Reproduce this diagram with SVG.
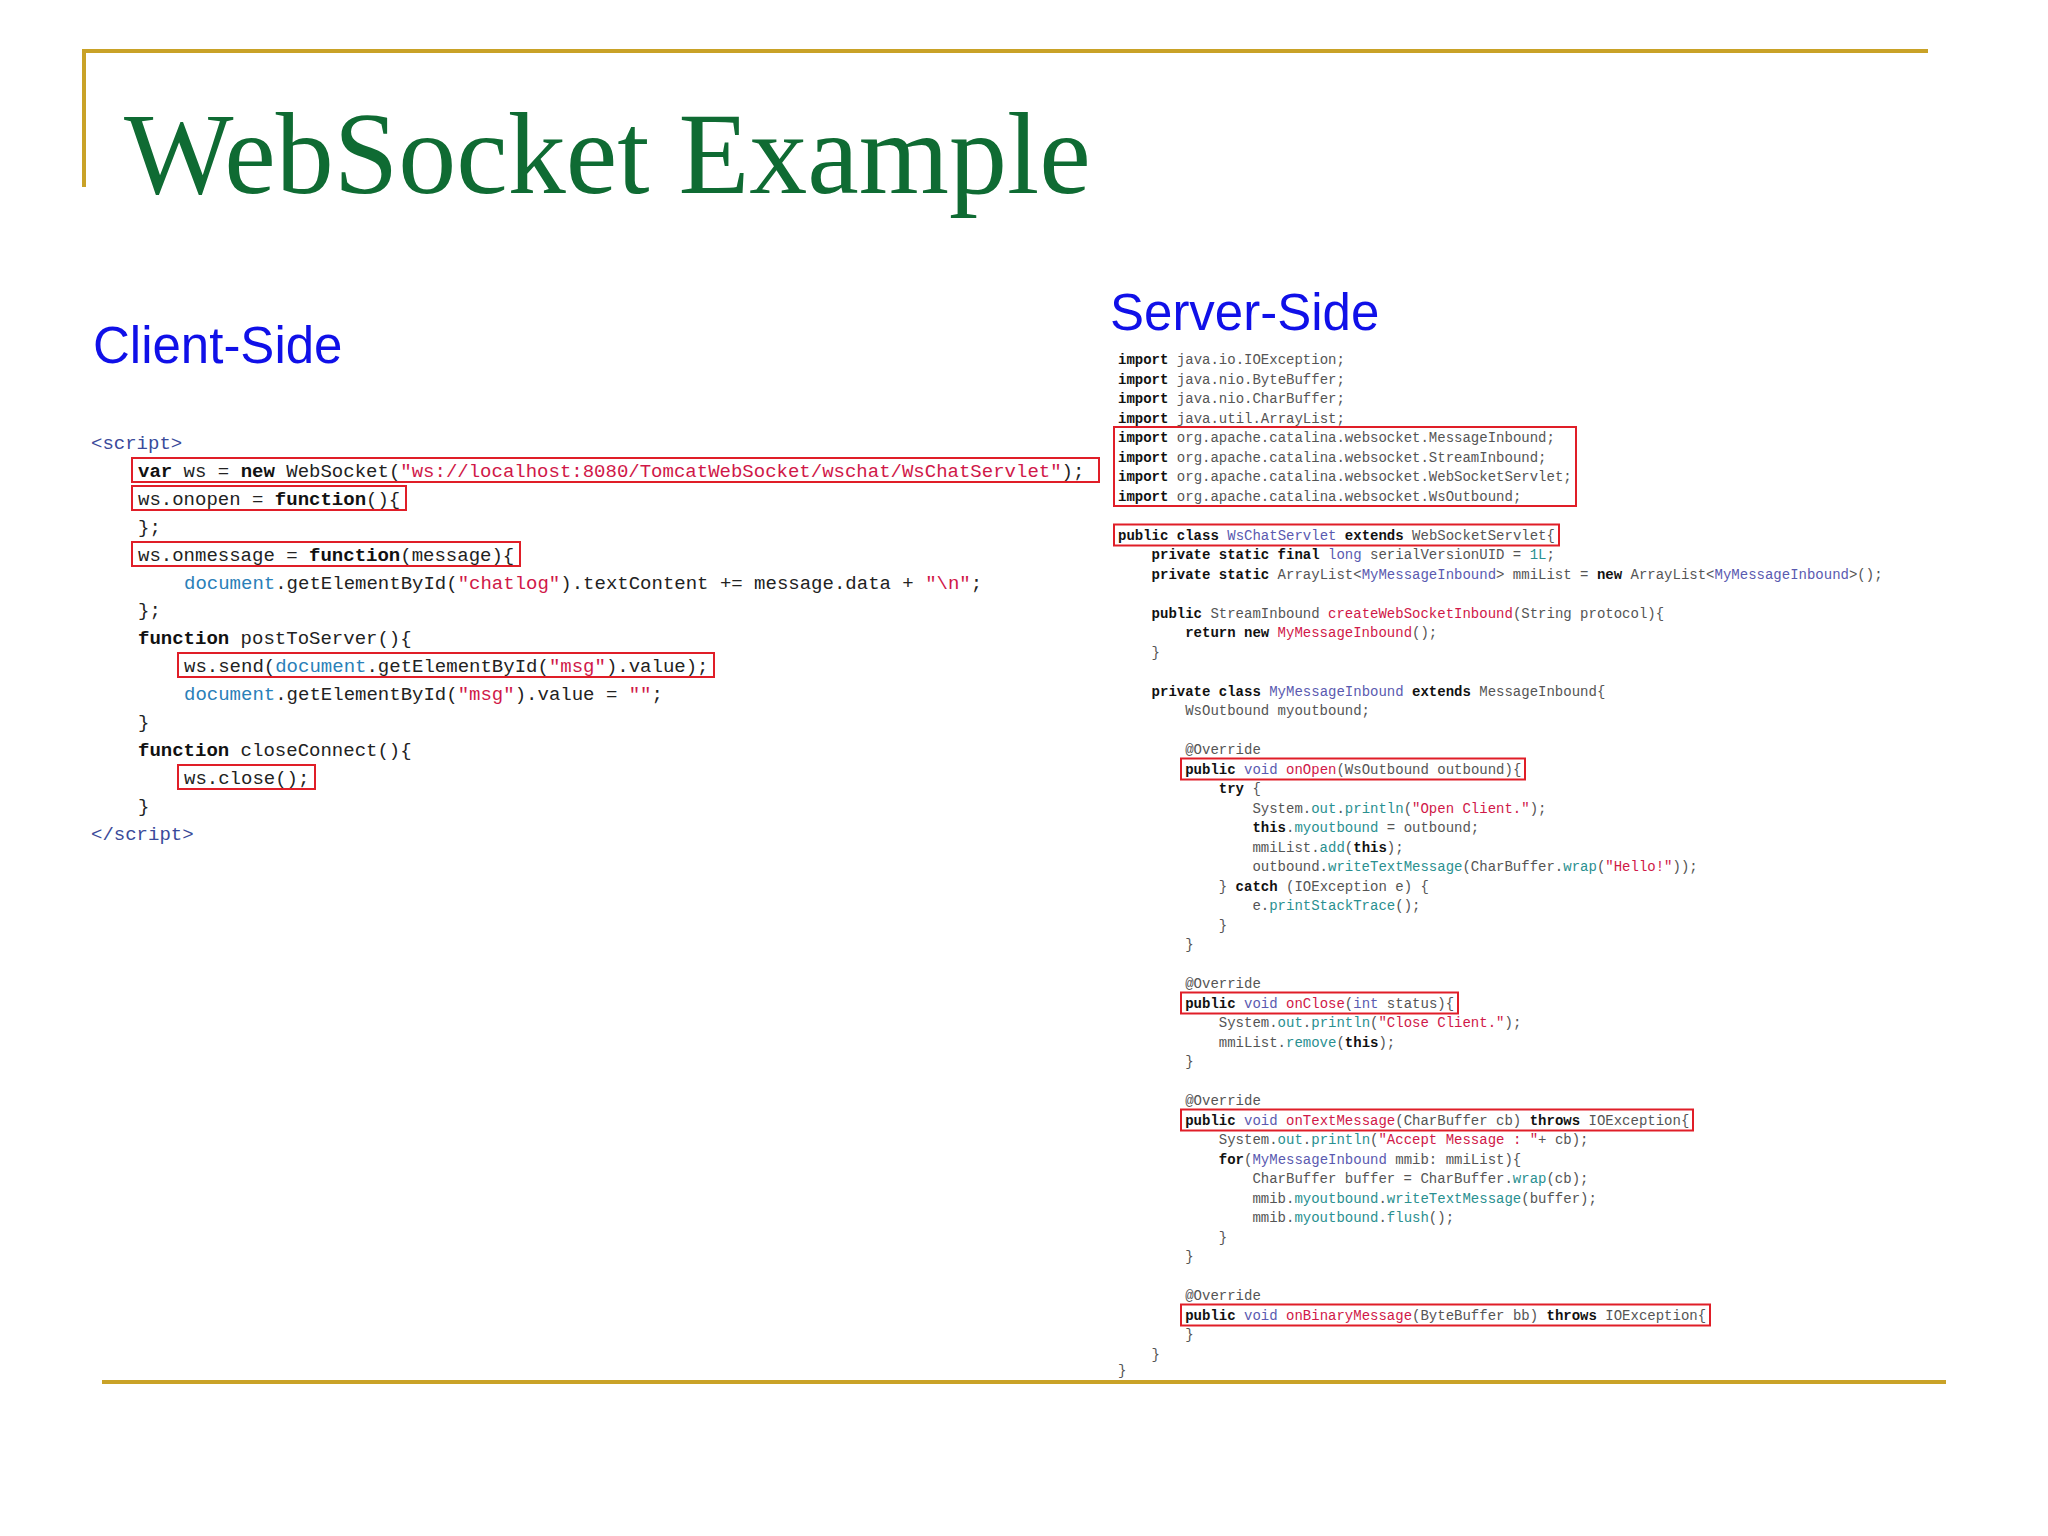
<svg xmlns="http://www.w3.org/2000/svg" width="2048" height="1536" viewBox="0 0 2048 1536">
<style>
.gold{stroke:#c9a227;stroke-width:4;fill:none}
.box{fill:none;stroke:#e01e28;stroke-width:2}
.cc{font-family:"Liberation Mono",monospace;font-size:19px;fill:#222}
.sc{font-family:"Liberation Mono",monospace;font-size:14px;fill:#555}
.k{font-weight:bold;fill:#111}
.s{fill:#d01848}
.m{fill:#2a9090}
.c{fill:#5a5ab0}
.d{fill:#2a80b8}
.tg{fill:#3a4a9a}
.h{font-family:"Liberation Sans",Arial,sans-serif;font-size:51px;fill:#1010e8}
</style>
<rect width="2048" height="1536" fill="#fff"/>
<g id="frame">
<path class="gold" d="M84 187V51H1928"/>
<path class="gold" d="M102 1382H1946"/>
</g>
<text id="title" x="124" y="193" font-family="'Liberation Serif',serif" font-size="116" fill="#0f6b33">WebSocket Example</text>
<text class="h" x="93" y="363">Client-Side</text>
<text class="h" x="1110" y="330">Server-Side</text>
<g id="client" class="cc">
<text x="91" y="449" class="tg">&lt;script&gt;</text>
<text x="138" y="477"><tspan class="k">var</tspan> ws = <tspan class="k">new</tspan> WebSocket(<tspan class="s">"ws://localhost:8080/TomcatWebSocket/wschat/WsChatServlet"</tspan>);</text>
<text x="138" y="505">ws.onopen = <tspan class="k">function</tspan>(){</text>
<text x="138" y="533">};</text>
<text x="138" y="561">ws.onmessage = <tspan class="k">function</tspan>(message){</text>
<text x="184" y="589"><tspan class="d">document</tspan>.getElementById(<tspan class="s">"chatlog"</tspan>).textContent += message.data + <tspan class="s">"\n"</tspan>;</text>
<text x="138" y="616">};</text>
<text x="138" y="644"><tspan class="k">function</tspan> postToServer(){</text>
<text x="184" y="672">ws.send(<tspan class="d">document</tspan>.getElementById(<tspan class="s">"msg"</tspan>).value);</text>
<text x="184" y="700"><tspan class="d">document</tspan>.getElementById(<tspan class="s">"msg"</tspan>).value = <tspan class="s">""</tspan>;</text>
<text x="138" y="728">}</text>
<text x="138" y="756"><tspan class="k">function</tspan> closeConnect(){</text>
<text x="184" y="784">ws.close();</text>
<text x="138" y="812">}</text>
<text x="91" y="840" class="tg">&lt;/script&gt;</text>
<rect class="box" x="132" y="458" width="967" height="24"/>
<rect class="box" x="132" y="486" width="274" height="24"/>
<rect class="box" x="132" y="542" width="388" height="24"/>
<rect class="box" x="178" y="653" width="536" height="24"/>
<rect class="box" x="178" y="765" width="137" height="24"/>
</g>
<g id="server" class="sc">
<text x="1118" y="364"><tspan class="k">import</tspan> java.io.IOException;</text>
<text x="1118" y="383.5"><tspan class="k">import</tspan> java.nio.ByteBuffer;</text>
<text x="1118" y="403"><tspan class="k">import</tspan> java.nio.CharBuffer;</text>
<text x="1118" y="422.5"><tspan class="k">import</tspan> java.util.ArrayList;</text>
<text x="1118" y="442"><tspan class="k">import</tspan> org.apache.catalina.websocket.MessageInbound;</text>
<text x="1118" y="461.5"><tspan class="k">import</tspan> org.apache.catalina.websocket.StreamInbound;</text>
<text x="1118" y="481"><tspan class="k">import</tspan> org.apache.catalina.websocket.WebSocketServlet;</text>
<text x="1118" y="500.5"><tspan class="k">import</tspan> org.apache.catalina.websocket.WsOutbound;</text>
<text x="1118" y="539.5"><tspan class="k">public class</tspan> <tspan class="c">WsChatServlet</tspan> <tspan class="k">extends</tspan> WebSocketServlet{</text>
<text x="1151.6" y="559"><tspan class="k">private static final</tspan> <tspan class="c">long</tspan> serialVersionUID = <tspan class="m">1L</tspan>;</text>
<text x="1151.6" y="578.5"><tspan class="k">private static</tspan> ArrayList&lt;<tspan class="c">MyMessageInbound</tspan>&gt; mmiList = <tspan class="k">new</tspan> ArrayList&lt;<tspan class="c">MyMessageInbound</tspan>&gt;();</text>
<text x="1151.6" y="617.5"><tspan class="k">public</tspan> StreamInbound <tspan class="s">createWebSocketInbound</tspan>(String protocol){</text>
<text x="1185.2" y="637"><tspan class="k">return new</tspan> <tspan class="s">MyMessageInbound</tspan>();</text>
<text x="1151.6" y="656.5">}</text>
<text x="1151.6" y="695.5"><tspan class="k">private class</tspan> <tspan class="c">MyMessageInbound</tspan> <tspan class="k">extends</tspan> MessageInbound{</text>
<text x="1185.2" y="715">WsOutbound myoutbound;</text>
<text x="1185.2" y="754">@Override</text>
<text x="1185.2" y="773.5"><tspan class="k">public</tspan> <tspan class="c">void</tspan> <tspan class="s">onOpen</tspan>(WsOutbound outbound){</text>
<text x="1218.8" y="793"><tspan class="k">try</tspan> {</text>
<text x="1252.4" y="812.5">System.<tspan class="m">out</tspan>.<tspan class="m">println</tspan>(<tspan class="s">"Open Client."</tspan>);</text>
<text x="1252.4" y="832"><tspan class="k">this</tspan>.<tspan class="m">myoutbound</tspan> = outbound;</text>
<text x="1252.4" y="851.5">mmiList.<tspan class="m">add</tspan>(<tspan class="k">this</tspan>);</text>
<text x="1252.4" y="871">outbound.<tspan class="m">writeTextMessage</tspan>(CharBuffer.<tspan class="m">wrap</tspan>(<tspan class="s">"Hello!"</tspan>));</text>
<text x="1218.8" y="890.5">} <tspan class="k">catch</tspan> (IOException e) {</text>
<text x="1252.4" y="910">e.<tspan class="m">printStackTrace</tspan>();</text>
<text x="1218.8" y="929.5">}</text>
<text x="1185.2" y="949">}</text>
<text x="1185.2" y="988">@Override</text>
<text x="1185.2" y="1007.5"><tspan class="k">public</tspan> <tspan class="c">void</tspan> <tspan class="s">onClose</tspan>(<tspan class="c">int</tspan> status){</text>
<text x="1218.8" y="1027">System.<tspan class="m">out</tspan>.<tspan class="m">println</tspan>(<tspan class="s">"Close Client."</tspan>);</text>
<text x="1218.8" y="1046.5">mmiList.<tspan class="m">remove</tspan>(<tspan class="k">this</tspan>);</text>
<text x="1185.2" y="1066">}</text>
<text x="1185.2" y="1105">@Override</text>
<text x="1185.2" y="1124.5"><tspan class="k">public</tspan> <tspan class="c">void</tspan> <tspan class="s">onTextMessage</tspan>(CharBuffer cb) <tspan class="k">throws</tspan> IOException{</text>
<text x="1218.8" y="1144">System.<tspan class="m">out</tspan>.<tspan class="m">println</tspan>(<tspan class="s">"Accept Message : "</tspan>+ cb);</text>
<text x="1218.8" y="1163.5"><tspan class="k">for</tspan>(<tspan class="c">MyMessageInbound</tspan> mmib: mmiList){</text>
<text x="1252.4" y="1183">CharBuffer buffer = CharBuffer.<tspan class="m">wrap</tspan>(cb);</text>
<text x="1252.4" y="1202.5">mmib.<tspan class="m">myoutbound</tspan>.<tspan class="m">writeTextMessage</tspan>(buffer);</text>
<text x="1252.4" y="1222">mmib.<tspan class="m">myoutbound</tspan>.<tspan class="m">flush</tspan>();</text>
<text x="1218.8" y="1241.5">}</text>
<text x="1185.2" y="1261">}</text>
<text x="1185.2" y="1300">@Override</text>
<text x="1185.2" y="1319.5"><tspan class="k">public</tspan> <tspan class="c">void</tspan> <tspan class="s">onBinaryMessage</tspan>(ByteBuffer bb) <tspan class="k">throws</tspan> IOException{</text>
<text x="1185.2" y="1339">}</text>
<text x="1151.6" y="1358.5">}</text>
<text x="1118" y="1375">}</text>
<rect class="box" x="1114" y="427" width="462" height="79"/>
<rect class="box" x="1114" y="524.5" width="445" height="21"/>
<rect class="box" x="1181" y="758.5" width="344" height="21"/>
<rect class="box" x="1181" y="992.5" width="277" height="21"/>
<rect class="box" x="1181" y="1109.5" width="512" height="21"/>
<rect class="box" x="1181" y="1304.5" width="529" height="21"/>
</g>
</svg>
